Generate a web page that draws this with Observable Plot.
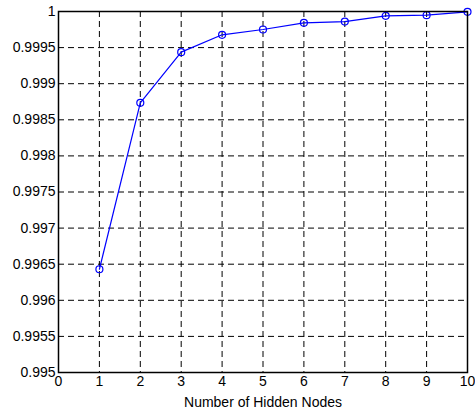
<!DOCTYPE html>
<html>
<head>
<meta charset="utf-8">
<script src="https://cdn.jsdelivr.net/npm/d3@7"></script>
<script src="https://cdn.jsdelivr.net/npm/@observablehq/plot@0.6"></script>
<style>
  html, body { margin: 0; padding: 0; background: #fff; }
  #chart svg { display: block; }
  #chart g[aria-label="y-axis tick label"] text,
  #chart g[aria-label="x-axis tick label"] text { font-size: 14px; }
  #chart g[aria-label="text"] text { font-size: 14px; }
</style>
</head>
<body>
<div id="chart"></div>
<script>
const hiddenNodes = [1, 2, 3, 4, 5, 6, 7, 8, 9, 10];
const accuracy = [0.99643, 0.998735, 0.999437, 0.999677, 0.999751, 0.999843, 0.999861, 0.99994, 0.999949, 0.999995];
const xTicks = [0, 1, 2, 3, 4, 5, 6, 7, 8, 9, 10];
const yTicks = [0.995, 0.9955, 0.996, 0.9965, 0.997, 0.9975, 0.998, 0.9985, 0.999, 0.9995, 1];
const xLabel = "Number of Hidden Nodes";

const data = hiddenNodes.map((x, i) => ({x, y: accuracy[i]}));
const yFmt = d => String(+d.toFixed(4));

const chart = Plot.plot({
  width: 475,
  height: 413,
  marginLeft: 58,
  marginRight: 8,
  marginTop: 11,
  marginBottom: 41,
  style: {fontFamily: "'Liberation Sans', Arial, sans-serif", fontSize: "14px", color: "#000", background: "#fff"},
  x: {domain: [0, 10]},
  y: {domain: [0.995, 1]},
  marks: [
    Plot.gridX(xTicks.slice(1, -1), {stroke: "#000", strokeOpacity: 1, strokeDasharray: "6,4", strokeWidth: 1}),
    Plot.gridY(yTicks.slice(1, -1), {stroke: "#000", strokeOpacity: 1, strokeDasharray: "6,4", strokeWidth: 1}),
    Plot.axisX(xTicks, {tickSize: 0, tickPadding: 4, fontSize: 14, label: null}),
    Plot.axisY(yTicks, {tickSize: 0, tickPadding: 3, fontSize: 14, tickFormat: yFmt, label: null}),
    Plot.text([xLabel], {frameAnchor: "bottom", dy: 34, fontSize: 14, text: d => d}),
    Plot.line(data, {x: "x", y: "y", stroke: "#0000ff", strokeWidth: 1.2}),
    Plot.dot(data, {x: "x", y: "y", stroke: "#0000ff", fill: "none", r: 3.5, strokeWidth: 1.2}),
    Plot.frame({stroke: "#000", strokeWidth: 1.5})
  ]
});
document.getElementById("chart").appendChild(chart);
</script>
</body>
</html>
